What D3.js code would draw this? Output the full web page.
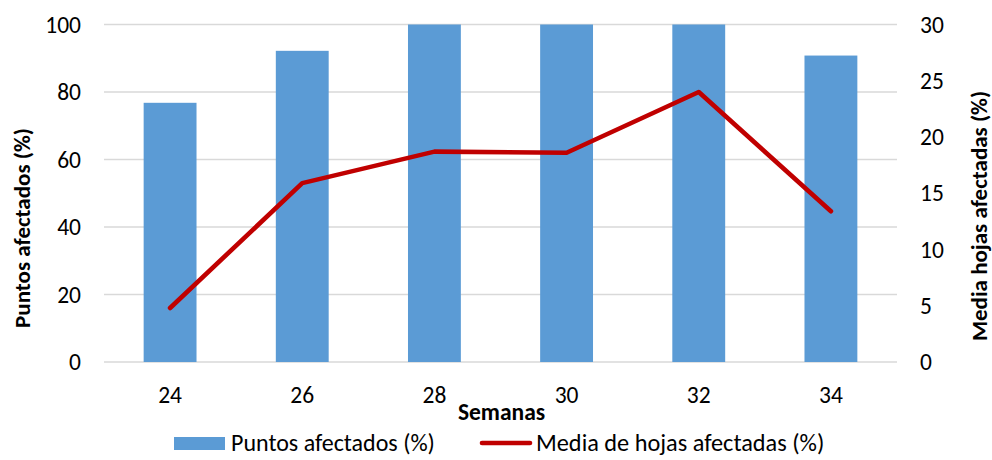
<!DOCTYPE html>
<html>
<head>
<meta charset="utf-8">
<script src="https://cdn.jsdelivr.net/npm/d3@7"></script>
<style>
  body { margin: 0; background: #fff; }
  text { font-family: Carlito, Calibri, "Open Sans", sans-serif; fill: #000; }
</style>
</head>
<body>
<script>
  var semanas = ["24", "26", "28", "30", "32", "34"];
  var puntos = [76.8, 92.2, 100, 100, 100, 90.8];
  var hojas = [4.8, 15.9, 18.7, 18.6, 24.0, 13.4];
  var leftTicks = [0, 20, 40, 60, 80, 100];
  var rightTicks = [0, 5, 10, 15, 20, 25, 30];

  var w = 992, h = 460;
  var plotLeft = 104, plotRight = 897, plotTop = 24.5, plotBottom = 362;

  var svg = d3.select("body").append("svg").attr("width", w).attr("height", h);

  var x = d3.scaleBand().domain(semanas).range([plotLeft, plotRight]).paddingInner(0.6).paddingOuter(0.3);
  var yL = d3.scaleLinear().domain([0, 100]).range([plotBottom, plotTop]);
  var yR = d3.scaleLinear().domain([0, 30]).range([plotBottom, plotTop]);

  // grid
  svg.append("g").selectAll("line").data(leftTicks).join("line")
    .attr("x1", plotLeft).attr("x2", plotRight)
    .attr("y1", d => yL(d)).attr("y2", d => yL(d))
    .attr("stroke", "#d9d9d9").attr("stroke-width", 1.3);

  // bars
  svg.append("g").selectAll("rect").data(puntos).join("rect")
    .attr("x", (d, i) => x(semanas[i]))
    .attr("width", x.bandwidth())
    .attr("y", d => yL(d))
    .attr("height", d => yL(0) - yL(d))
    .attr("fill", "#5b9bd5");

  // line
  var line = d3.line()
    .x((d, i) => x(semanas[i]) + x.bandwidth() / 2)
    .y(d => yR(d));
  svg.append("path").datum(hojas)
    .attr("d", line)
    .attr("fill", "none").attr("stroke", "#c00000")
    .attr("stroke-width", 4.6).attr("stroke-linecap", "round").attr("stroke-linejoin", "round");

  // axes
  var axL = d3.axisLeft(yL).tickValues(leftTicks).tickSize(0).tickPadding(23);
  var gL = svg.append("g").attr("transform", "translate(" + plotLeft + ",0)").call(axL);
  var axR = d3.axisRight(yR).tickValues(rightTicks).tickSize(0).tickPadding(23);
  var gR = svg.append("g").attr("transform", "translate(" + plotRight + ",0)").call(axR);
  var axB = d3.axisBottom(x).tickSize(0).tickPadding(24);
  var gB = svg.append("g").attr("transform", "translate(0," + plotBottom + ")").call(axB);
  [gL, gR, gB].forEach(function (g) {
    g.select(".domain").remove();
    g.selectAll("text").attr("font-size", 23.5).attr("font-family", null);
  });

  // titles
  svg.append("text").attr("x", (plotLeft + plotRight) / 2 + 1).attr("y", 420)
    .attr("text-anchor", "middle").attr("font-size", 23.5).attr("font-weight", "bold").text("Semanas");
  svg.append("text").attr("transform", "translate(30,228) rotate(-90)")
    .attr("text-anchor", "middle").attr("font-size", 23).attr("font-weight", "bold").text("Puntos afectados (%)");
  svg.append("text").attr("transform", "translate(987,216) rotate(-90)")
    .attr("text-anchor", "middle").attr("font-size", 23).attr("font-weight", "bold").text("Media hojas afectadas (%)");

  // legend
  var lg = svg.append("g");
  lg.append("rect").attr("x", 174).attr("y", 437).attr("width", 51).attr("height", 13).attr("fill", "#5b9bd5");
  lg.append("text").attr("x", 231).attr("y", 451).attr("font-size", 24).text("Puntos afectados (%)");
  lg.append("line").attr("x1", 482).attr("x2", 530).attr("y1", 443).attr("y2", 443)
    .attr("stroke", "#c00000").attr("stroke-width", 4.6).attr("stroke-linecap", "round");
  lg.append("text").attr("x", 536).attr("y", 451).attr("font-size", 24.3).text("Media de hojas afectadas (%)");
</script>
</body>
</html>
